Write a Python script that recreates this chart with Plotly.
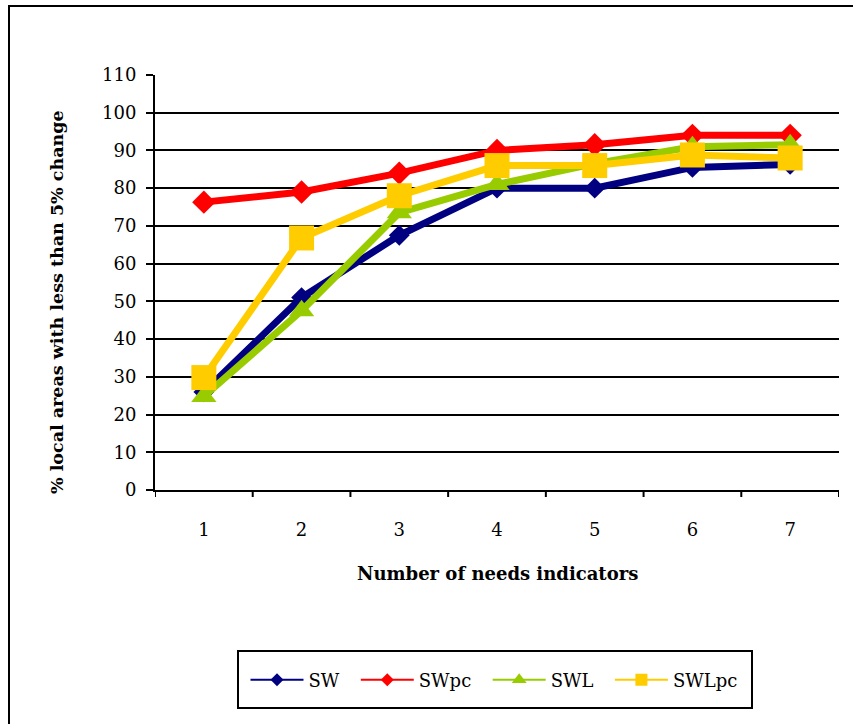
import plotly.graph_objects as go

# Number of needs indicators
indicators = [1, 2, 3, 4, 5, 6, 7]
tick_labels = ["1", "2", "3", "4", "5", "6", "7"]

# % local areas with less than 5% change
sw = [26, 51, 67.5, 80, 80, 85.5, 86.3]
sw_pc = [76.3, 79, 84, 90, 91.5, 94, 94]
swl = [24.8, 47.5, 73.5, 81, 86.5, 91, 91.5]
swl_pc = [29.8, 66.8, 78, 86, 86, 88.8, 88]

series = [
    ("SW", sw, "#000080", "diamond", 16, 10),
    ("SWpc", sw_pc, "#FF0000", "diamond", 18, 10),
    ("SWL", swl, "#99CC00", "triangle-up", 22, 13),
    ("SWLpc", swl_pc, "#FFCC00", "square", 25, 12),
]

FONT = "DejaVu Serif"

fig = go.Figure()
for name, vals, color, sym, size, _ in series:
    fig.add_trace(go.Scatter(
        x=indicators, y=vals, mode="lines+markers", name=name,
        line=dict(color=color, width=7),
        marker=dict(symbol=sym, size=size, color=color),
        showlegend=False,
    ))
# thin-line legend entries
for name, vals, color, sym, size, lsize in series:
    fig.add_trace(go.Scatter(
        x=[None], y=[None], mode="lines+markers", name=name + "  ",
        line=dict(color=color, width=2),
        marker=dict(symbol=sym, size=lsize, color=color),
    ))

W, H = 853, 724
L, R, T, B = 155, 839, 75, 490


def px(xp):
    return (xp - L) / (R - L)


def py(yp):
    return (B - yp) / (B - T)


fig.update_layout(
    width=W, height=H,
    margin=dict(l=L, r=W - R, t=T, b=H - B),
    paper_bgcolor="white", plot_bgcolor="white",
    font=dict(family=FONT, size=18, color="black"),
    xaxis=dict(
        range=[0.5, 7.5], tickmode="array", tickvals=indicators, ticktext=tick_labels,
        showgrid=False, zeroline=False, showline=True, linecolor="black", linewidth=2,
        ticks="", ticklabelstandoff=22,
    ),
    yaxis=dict(
        range=[0, 110], dtick=10, showgrid=True, gridcolor="black", gridwidth=2,
        zeroline=False, showline=True, linecolor="black", linewidth=2,
        ticks="outside", ticklen=7, tickwidth=2, tickcolor="black", ticklabelstandoff=6,
    ),
    legend=dict(
        orientation="h", x=px(500), xanchor="center", y=py(680), yanchor="middle",
        borderwidth=0, bgcolor="rgba(0,0,0,0)", font=dict(family=FONT, size=18),
        itemwidth=53,
    ),
    showlegend=True,
)

# tick marks on the category boundaries
for b in [0.5 + i for i in range(8)]:
    fig.add_shape(type="line", xref="x", yref="paper", x0=b, x1=b,
                  y0=0, y1=-7 / (B - T), line=dict(color="black", width=2))

fig.add_annotation(text="<b>Number of needs indicators</b>", xref="paper", yref="paper",
                   x=px(497), y=py(573), xanchor="center", yanchor="middle",
                   showarrow=False, font=dict(size=18))
fig.add_annotation(text="<b>% local areas with less than 5% change</b>", xref="paper",
                   yref="paper", x=px(57), y=py(302), xanchor="center", yanchor="middle",
                   textangle=-90, showarrow=False, font=dict(size=17.5))

# legend frame
fig.add_shape(type="rect", xref="paper", yref="paper", x0=px(238), x1=px(752),
              y0=py(708), y1=py(651), line=dict(color="black", width=2))

# outer frame
fig.add_shape(type="rect", xref="paper", yref="paper", x0=px(9), x1=px(900),
              y0=py(800), y1=py(6), line=dict(color="black", width=2))

fig.write_html("out.html")
